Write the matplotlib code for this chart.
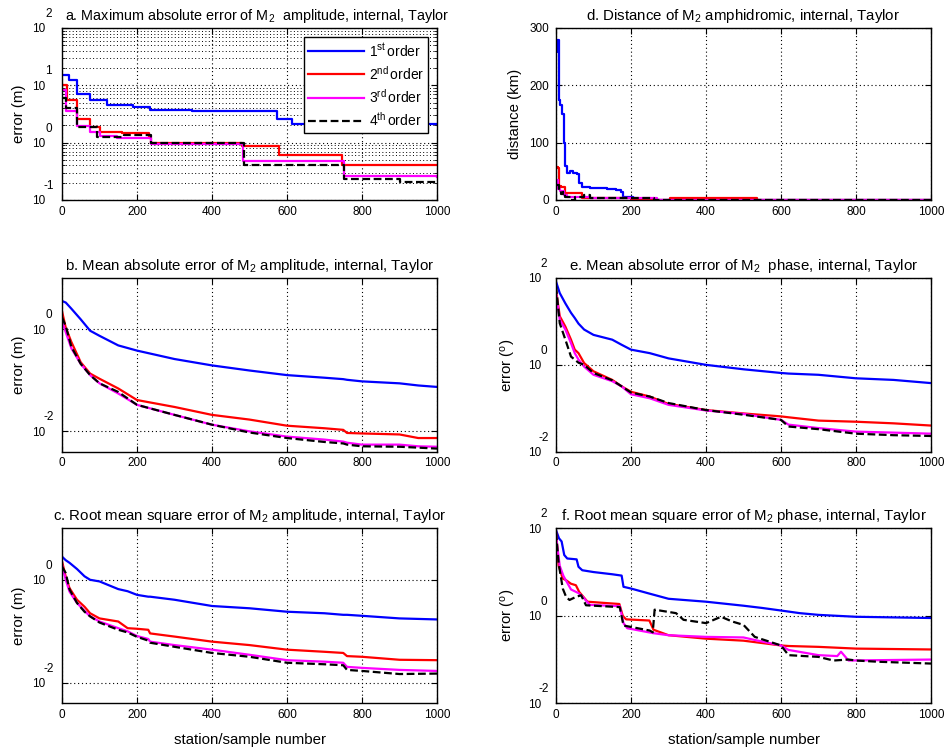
import matplotlib
matplotlib.use('Agg')
import matplotlib.pyplot as plt
from matplotlib.ticker import LogLocator, NullLocator, FixedLocator
from matplotlib.lines import Line2D

plt.rcParams['font.family'] = ['Liberation Sans', 'DejaVu Sans']
plt.rcParams['mathtext.fontset'] = 'custom'
plt.rcParams['mathtext.rm'] = 'Liberation Sans'
plt.rcParams['mathtext.it'] = 'Liberation Sans:italic'
plt.rcParams['mathtext.bf'] = 'Liberation Sans:bold'

# ---------------- data ----------------
series_labels = ['1$^{\\rm st}\\,$order', '2$^{\\rm nd}\\,$order', '3$^{\\rm rd}\\,$order', '4$^{\\rm th}\\,$order']
x_ticks = [0, 200, 400, 600, 800, 1000]

# a. maximum absolute error of amplitude (m)
a_x1 = [0, 18, 40, 75, 120, 190, 235, 347, 573, 613, 1000]
a_y1 = [15.1, 12.3, 7.2, 5.5, 4.6, 4.2, 3.7, 3.5, 2.6, 2.1, 2.1]
a_x2 = [0, 13, 40, 75, 102, 160, 231, 236, 480, 578, 747, 1000]
a_y2 = [10.0, 5.5, 2.63, 1.9, 1.55, 1.45, 1.19, 1.0, 0.87, 0.6, 0.41, 0.41]
a_x3 = [0, 10, 40, 75, 100, 147, 236, 483, 751, 1000]
a_y3 = [8.3, 3.5, 1.95, 1.55, 1.32, 1.19, 0.93, 0.47, 0.26, 0.25]
a_x4 = [0, 10, 40, 93, 164, 236, 484, 751, 902, 1000]
a_y4 = [6.0, 4.0, 1.9, 1.26, 1.35, 1.0, 0.41, 0.23, 0.21, 0.21]
a_exps = [-1, 0, 1, 2]

# b. mean absolute error of amplitude (m)
b_x = [0, 10, 25, 50, 75, 100, 150, 200, 300, 400, 500, 600, 700, 750, 760, 800, 900, 950, 1000]
b_y1 = [3.55, 3.31, 2.51, 1.55, 0.93, 0.74, 0.48, 0.38, 0.26, 0.195, 0.155, 0.126, 0.112, 0.105, 0.102, 0.095, 0.087, 0.079, 0.074]
b_y2 = [2.24, 1.07, 0.56, 0.224, 0.135, 0.107, 0.069, 0.041, 0.030, 0.021, 0.017, 0.0129, 0.0115, 0.0107, 0.0093, 0.0091, 0.0087, 0.0074, 0.0074]
b_y3 = [1.45, 0.87, 0.42, 0.209, 0.126, 0.087, 0.055, 0.033, 0.021, 0.0135, 0.010, 0.0079, 0.0069, 0.0063, 0.0060, 0.0055, 0.0055, 0.0051, 0.0050]
b_y4 = [1.70, 1.15, 0.45, 0.209, 0.126, 0.087, 0.059, 0.033, 0.021, 0.0135, 0.0095, 0.0074, 0.0062, 0.0058, 0.0055, 0.0051, 0.0050, 0.0048, 0.0046]
b_exps = [-2, 0]

# c. root mean square error of amplitude (m)
c_x = [0, 10, 20, 40, 60, 75, 100, 150, 175, 200, 230, 235, 300, 400, 500, 600, 700, 750, 760, 800, 900, 1000]
c_y1 = [2.82, 2.40, 2.14, 1.62, 1.17, 1.0, 0.93, 0.66, 0.60, 0.51, 0.47, 0.47, 0.41, 0.31, 0.28, 0.24, 0.224, 0.209, 0.209, 0.20, 0.178, 0.170]
c_y2 = [2.29, 1.15, 0.69, 0.41, 0.30, 0.224, 0.178, 0.155, 0.115, 0.112, 0.107, 0.091, 0.079, 0.063, 0.054, 0.044, 0.040, 0.038, 0.033, 0.032, 0.028, 0.0275]
c_y3 = [1.95, 1.0, 0.59, 0.355, 0.25, 0.195, 0.155, 0.115, 0.10, 0.081, 0.071, 0.063, 0.054, 0.044, 0.035, 0.0275, 0.0257, 0.0245, 0.0204, 0.0195, 0.0178, 0.0170]
c_y4 = [1.82, 1.35, 0.65, 0.355, 0.24, 0.195, 0.148, 0.107, 0.095, 0.078, 0.066, 0.060, 0.050, 0.038, 0.032, 0.0245, 0.0229, 0.0219, 0.0178, 0.0170, 0.0148, 0.0151]
c_exps = [-2, 0]

# d. distance of amphidromic point (km)
d_x1 = [0, 2, 7, 10, 16, 20, 23, 28, 36, 45, 55, 60, 68, 90, 135, 160, 172, 178, 205, 210, 1000]
d_y1 = [258, 279, 174, 165, 150, 100, 60, 47, 50, 47, 45, 29, 23, 21, 19, 17, 14, 6, 3, 0.5, 0.5]
d_x2 = [0, 5, 8, 12, 20, 25, 60, 70, 200, 210, 300, 305, 530, 535, 1000]
d_y2 = [57, 55, 25, 23, 22, 12, 12, 4, 2, 0.5, 0.5, 3, 3, 0.5, 0.5]
d_x3 = [0, 5, 10, 20, 30, 80, 90, 260, 270, 1000]
d_y3 = [35, 20, 15, 8, 5, 5, 3, 3, 0.5, 0.5]
d_x4 = [0, 8, 12, 18, 25, 40, 50, 75, 90, 250, 260, 1000]
d_y4 = [27, 20, 10, 14, 5, 0.5, 5, 8, 3, 3, 0.5, 0.5]
d_yticks = [0, 100, 200, 300]

# e. mean absolute error of phase (deg)
e_x = [0, 10, 25, 40, 50, 60, 75, 100, 150, 175, 200, 250, 300, 400, 500, 600, 620, 700, 800, 900, 1000]
e_y1 = [83, 45, 26, 15.8, 12.0, 8.9, 6.5, 4.9, 3.8, 2.9, 2.24, 1.86, 1.41, 1.0, 0.79, 0.65, 0.63, 0.59, 0.49, 0.45, 0.38]
e_y2 = [54, 13.2, 7.6, 3.8, 2.24, 1.86, 1.10, 0.71, 0.45, 0.32, 0.24, 0.186, 0.126, 0.091, 0.076, 0.065, 0.062, 0.052, 0.049, 0.045, 0.040]
e_y3 = [45, 11.0, 6.5, 3.16, 1.86, 1.32, 0.91, 0.59, 0.42, 0.32, 0.21, 0.17, 0.12, 0.089, 0.074, 0.054, 0.042, 0.035, 0.029, 0.0275, 0.026]
e_y4 = [65, 9.1, 3.8, 1.55, 1.32, 1.12, 1.0, 0.65, 0.44, 0.32, 0.23, 0.186, 0.132, 0.091, 0.071, 0.054, 0.038, 0.033, 0.026, 0.024, 0.023]
e_exps = [-2, 0, 2]

# f. root mean square error of phase (deg)
f_x1 = [0, 8, 15, 22, 30, 55, 60, 70, 100, 150, 175, 180, 200, 250, 300, 400, 500, 550, 600, 650, 700, 800, 1000]
f_y1 = [91, 59, 50, 24.5, 20.4, 19.5, 13.2, 11.0, 10.0, 8.9, 8.3, 4.6, 4.2, 3.2, 2.45, 2.1, 1.70, 1.51, 1.32, 1.15, 1.05, 0.95, 0.89]
f_x2 = [0, 7, 18, 27, 40, 53, 62, 84, 169, 178, 187, 249, 260, 300, 400, 500, 600, 620, 700, 800, 1000]
f_y2 = [85, 14.1, 7.1, 6.5, 5.4, 5.0, 3.5, 2.1, 1.86, 1.0, 0.83, 0.78, 0.48, 0.36, 0.30, 0.27, 0.21, 0.204, 0.195, 0.178, 0.170]
f_x3 = [0, 10, 20, 40, 60, 70, 90, 170, 180, 190, 260, 300, 400, 500, 530, 600, 620, 700, 750, 760, 780, 1000]
f_y3 = [68, 13.8, 8.1, 4.0, 3.3, 2.8, 1.78, 1.66, 0.68, 0.52, 0.40, 0.36, 0.33, 0.32, 0.28, 0.21, 0.166, 0.126, 0.120, 0.151, 0.095, 0.100]
f_x4 = [0, 7, 18, 27, 36, 53, 67, 80, 170, 180, 250, 258, 263, 320, 340, 400, 440, 470, 500, 530, 600, 620, 700, 740, 780, 800, 860, 1000]
f_y4 = [81, 16, 4.2, 2.7, 2.3, 2.7, 2.95, 1.74, 1.58, 0.60, 0.46, 0.42, 1.38, 1.15, 0.81, 0.68, 0.95, 0.74, 0.62, 0.33, 0.21, 0.126, 0.115, 0.095, 0.10, 0.095, 0.089, 0.081]
f_exps = [-2, 0, 2]

titles = {
    'a': 'a. Maximum absolute error of M$_2$  amplitude, internal, Taylor',
    'b': 'b. Mean absolute error of M$_2$ amplitude, internal, Taylor',
    'c': 'c. Root mean square error of M$_2$ amplitude, internal, Taylor',
    'd': 'd. Distance of M$_2$ amphidromic, internal, Taylor',
    'e': 'e. Mean absolute error of M$_2$  phase, internal, Taylor',
    'f': 'f. Root mean square error of M$_2$ phase, internal, Taylor',
}

# ---------------- styling ----------------
colors = ['#0000ff', '#ff0000', '#ff00ff', '#000000']
styles = ['-', '-', '-', (0, (3.5, 1.6))]
LW = 1.6
W, H = 944, 754
TFS = 10.8   # title / label font size
TKS = 8.5    # tick font size

fig = plt.figure(figsize=(W / 100, H / 100), dpi=100)

def rect(x0, y0, x1, y1):
    return [x0 / W, 1 - y1 / H, (x1 - x0) / W, (y1 - y0) / H]

ax_a = fig.add_axes(rect(62, 28, 437, 200))
ax_b = fig.add_axes(rect(62, 278, 437, 451.7))
ax_c = fig.add_axes(rect(62, 528.3, 437, 703.3))
ax_d = fig.add_axes(rect(556, 28, 931, 200))
ax_e = fig.add_axes(rect(556, 278, 931, 451.7))
ax_f = fig.add_axes(rect(556, 528.3, 931, 703.3))

grid_ls = (0, (1, 2.5))

def base_style(ax, title, tfs=TFS, tx=0.5):
    ax.set_xlim(0, 1000)
    ax.set_xticks(x_ticks)
    ax.set_xticklabels([str(t) for t in x_ticks])
    ax.tick_params(axis='both', which='major', direction='in', top=True, right=True,
                   length=4, width=0.8, labelsize=TKS, colors='black')
    ax.tick_params(axis='x', pad=4)
    ax.xaxis.grid(True, linestyle=grid_ls, color='black', linewidth=0.8)
    for s in ax.spines.values():
        s.set_linewidth(1.0)
        s.set_color('black')
    ax.set_title(title, fontsize=tfs, pad=6, x=tx)

def log_style(ax, exps, ylim, xoff, ypad, minor=False):
    ax.set_yscale('log')
    ax.set_ylim(*ylim)
    ax.yaxis.set_major_locator(FixedLocator([10.0 ** e for e in exps]))
    ax.set_yticklabels(['10'] * len(exps))
    ax.tick_params(axis='y', pad=ypad)
    ax.yaxis.grid(True, which='major', linestyle=grid_ls, color='black', linewidth=0.8)
    if minor:
        ax.yaxis.set_minor_locator(LogLocator(base=10, subs=range(2, 10)))
        ax.yaxis.grid(True, which='minor', linestyle=grid_ls, color='black', linewidth=0.7)
        ax.tick_params(axis='y', which='minor', direction='in', right=True, length=2, width=0.6)
        ax.yaxis.set_minor_formatter(plt.NullFormatter())
    else:
        ax.yaxis.set_minor_locator(NullLocator())
    for e in exps:
        ax.annotate(str(e), xy=(0, 10.0 ** e), xycoords=ax.get_yaxis_transform(),
                    xytext=(xoff, 10), textcoords='offset points', ha='center', va='center',
                    fontsize=TKS, annotation_clip=False)

def plot4(ax, xs, ys, drawstyle='default'):
    for x, y, c, ls in zip(xs, ys, colors, styles):
        ax.plot(x, y, color=c, linestyle=ls, linewidth=LW, drawstyle=drawstyle)

# a
plot4(ax_a, [a_x1, a_x2, a_x3, a_x4], [a_y1, a_y2, a_y3, a_y4], 'steps-post')
base_style(ax_a, titles['a'], tfs=10.4, tx=0.52)
log_style(ax_a, a_exps, (0.1, 100), -9.5, 12, minor=True)
ax_a.set_ylabel('error (m)', fontsize=TFS)
ax_a.yaxis.set_label_coords(-0.097, 0.5)
handles = [Line2D([], [], color=c, linestyle=ls, linewidth=LW) for c, ls in zip(colors, styles)]
leg = ax_a.legend(handles, series_labels, loc='upper right', bbox_to_anchor=(0.977, 0.947),
                  borderaxespad=0, fontsize=10, handlelength=4.0, labelspacing=0.38,
                  fancybox=False, framealpha=1, edgecolor='black', borderpad=0.32,
                  handletextpad=0.35)
leg.get_frame().set_linewidth(1.0)

# b
plot4(ax_b, [b_x] * 4, [b_y1, b_y2, b_y3, b_y4])
base_style(ax_b, titles['b'])
log_style(ax_b, b_exps, (4e-3, 10), -9.5, 12)
ax_b.set_ylabel('error (m)', fontsize=TFS)
ax_b.yaxis.set_label_coords(-0.097, 0.5)

# c
plot4(ax_c, [c_x] * 4, [c_y1, c_y2, c_y3, c_y4])
base_style(ax_c, titles['c'])
log_style(ax_c, c_exps, (4e-3, 10), -9.5, 12)
ax_c.set_ylabel('error (m)', fontsize=TFS)
ax_c.yaxis.set_label_coords(-0.097, 0.5)
ax_c.set_xlabel('station/sample number', fontsize=TFS)
ax_c.xaxis.set_label_coords(0.5, -0.17)

# d
plot4(ax_d, [d_x1, d_x2, d_x3, d_x4], [d_y1, d_y2, d_y3, d_y4], 'steps-post')
base_style(ax_d, titles['d'])
ax_d.set_ylim(0, 300)
ax_d.set_yticks(d_yticks)
ax_d.tick_params(axis='y', pad=5)
ax_d.yaxis.grid(True, linestyle=grid_ls, color='black', linewidth=0.8)
ax_d.set_ylabel('distance (km)', fontsize=TFS)
ax_d.yaxis.set_label_coords(-0.091, 0.5)

# e
plot4(ax_e, [e_x] * 4, [e_y1, e_y2, e_y3, e_y4])
base_style(ax_e, titles['e'])
log_style(ax_e, e_exps, (0.01, 100), -9.0, 10.5)
ax_e.set_ylabel('error ($^{\\rm o}$)', fontsize=TFS)
ax_e.yaxis.set_label_coords(-0.101, 0.5)

# f
plot4(ax_f, [f_x1, f_x2, f_x3, f_x4], [f_y1, f_y2, f_y3, f_y4])
base_style(ax_f, titles['f'])
log_style(ax_f, f_exps, (0.01, 100), -9.0, 10.5)
ax_f.set_ylabel('error ($^{\\rm o}$)', fontsize=TFS)
ax_f.yaxis.set_label_coords(-0.101, 0.5)
ax_f.set_xlabel('station/sample number', fontsize=TFS)
ax_f.xaxis.set_label_coords(0.5, -0.17)

fig.savefig('out.png', dpi=100, facecolor='white')
